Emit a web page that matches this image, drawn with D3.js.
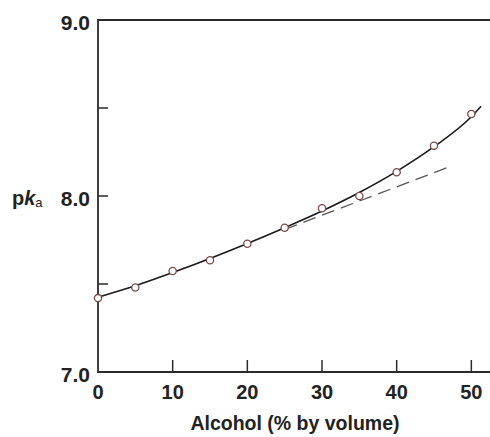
<!DOCTYPE html>
<html>
<head>
<meta charset="utf-8">
<script src="https://cdn.jsdelivr.net/npm/d3@7"></script>
<style>
  body { margin: 0; background: #fff; }
  text { font-family: "Liberation Sans", Arial, sans-serif; fill: #222; }
</style>
</head>
<body>
<div id="chart"></div>
<script>
var width   = 490,
    height  = 437,
    plotL   = 98,
    plotR   = 490,
    plotT   = 20,
    plotB   = 372;

// measured points (pKa vs alcohol %)
var alcohol = [0, 5, 10, 15, 20, 25, 30, 35, 40, 45, 50];
var pka     = [7.42, 7.48, 7.574, 7.635, 7.729, 7.82, 7.93, 8.0, 8.135, 8.286, 8.466];

// smooth solid curve
var fitX = [0, 5, 10, 15, 20, 25, 30, 35, 40, 45, 50, 51.3];
var fitY = [7.425, 7.49, 7.565, 7.645, 7.73, 7.82, 7.915, 8.02, 8.14, 8.28, 8.45, 8.51];

// dashed straight extrapolation
var dashX = [25, 47];
var dashY = [7.81, 8.165];

var xTicks = [10, 20, 30, 40, 50];
var xLabels = [0, 10, 20, 30, 40, 50];
var yTicks = [7.5, 8.0, 8.5];
var yLabels = [7.0, 8.0, 9.0];

var x = d3.scaleLinear().domain([0, 52.5]).range([plotL, plotR]);
var y = d3.scaleLinear().domain([7, 9]).range([plotB, plotT]);

var svg = d3.select("#chart").append("svg")
    .attr("width", width)
    .attr("height", height);

// frame: left axis, bottom axis, top line
var axisColor = "#2b2b2b";
svg.append("path")
    .attr("d", "M" + plotR + "," + plotT + "H" + plotL + "V" + plotB + "H" + plotR)
    .attr("fill", "none")
    .attr("stroke", axisColor)
    .attr("stroke-width", 1.8);

// inward ticks
svg.selectAll(".xtick")
    .data(xTicks)
    .enter()
    .append("line")
    .attr("x1", function(d) { return x(d); })
    .attr("x2", function(d) { return x(d); })
    .attr("y1", plotB)
    .attr("y2", plotB - 12)
    .attr("stroke", axisColor)
    .attr("stroke-width", 1.5);

svg.selectAll(".ytick")
    .data(yTicks)
    .enter()
    .append("line")
    .attr("x1", plotL)
    .attr("x2", plotL + 10)
    .attr("y1", function(d) { return y(d); })
    .attr("y2", function(d) { return y(d); })
    .attr("stroke", axisColor)
    .attr("stroke-width", 1.5);

// tick labels
svg.selectAll(".xlab")
    .data(xLabels)
    .enter()
    .append("text")
    .attr("x", function(d) { return x(d); })
    .attr("y", 399)
    .attr("text-anchor", "middle")
    .style("font-size", "20px")
    .style("font-weight", "bold")
    .text(function(d) { return d; });

svg.selectAll(".ylab")
    .data(yLabels)
    .enter()
    .append("text")
    .attr("x", 90)
    .attr("y", function(d) { return y(d) + 10; })
    .attr("text-anchor", "end")
    .style("font-size", "21px")
    .style("font-weight", "bold")
    .text(function(d) { return d.toFixed(1); });

// y label: pKa
var ylab = svg.append("text")
    .attr("x", 12)
    .attr("y", y(8) + 9)
    .style("font-size", "20px")
    .style("font-weight", "bold");
ylab.append("tspan").text("p");
ylab.append("tspan").style("font-style", "italic").text("k");
ylab.append("tspan")
    .attr("dy", 2)
    .style("font-size", "13px")
    .style("font-weight", "normal")
    .text("a");

// x title
svg.append("text")
    .attr("x", 295)
    .attr("y", 430)
    .attr("text-anchor", "middle")
    .style("font-size", "19.5px")
    .style("font-weight", "bold")
    .text("Alcohol (% by volume)");

// dashed line
var line = d3.line()
    .x(function(d) { return x(d[0]); })
    .y(function(d) { return y(d[1]); });

svg.append("path")
    .datum(d3.zip(dashX, dashY))
    .attr("d", line)
    .attr("fill", "none")
    .attr("stroke", "#555")
    .attr("stroke-width", 1.3)
    .attr("stroke-dasharray", "13,7");

// solid curve
svg.append("path")
    .datum(d3.zip(fitX, fitY))
    .attr("d", line.curve(d3.curveMonotoneX))
    .attr("fill", "none")
    .attr("stroke", "#1a1a1a")
    .attr("stroke-width", 1.6);

// points
svg.selectAll(".pt")
    .data(d3.zip(alcohol, pka))
    .enter()
    .append("circle")
    .attr("cx", function(d) { return x(d[0]); })
    .attr("cy", function(d) { return y(d[1]); })
    .attr("r", 3.6)
    .attr("fill", "#fff")
    .attr("stroke", "#7a4a4a")
    .attr("stroke-width", 1.3);
</script>
</body>
</html>
